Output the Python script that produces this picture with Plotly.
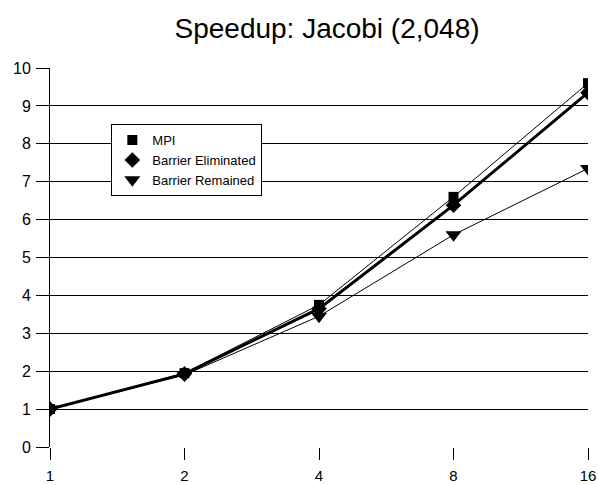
import plotly.graph_objects as go

procs = ["1", "2", "4", "8", "16"]
mpi = [1.0, 1.95, 3.75, 6.6, 9.6]
barrier_eliminated = [1.0, 1.93, 3.65, 6.38, 9.35]
barrier_remained = [1.0, 1.9, 3.45, 5.6, 7.35]

series = [
    ("MPI", mpi, 1, "square", 10),
    ("Barrier Eliminated", barrier_eliminated, 3, "diamond", 12),
    ("Barrier Remained", barrier_remained, 1, "triangle-down", 14),
]

fig = go.Figure()
for name, vals, lw, sym, ms in series:
    fig.add_trace(go.Scatter(x=procs, y=vals, name=name, mode="lines+markers", showlegend=False,
                             line=dict(color="black", width=lw),
                             marker=dict(symbol=sym, size=ms, color="black")))
for name, vals, lw, sym, ms in series:
    fig.add_trace(go.Scatter(x=[None], y=[None], name=name, mode="markers", showlegend=True,
                             marker=dict(symbol=sym, size=ms, color="black")))

fig.update_layout(
    template="none",
    width=599, height=485,
    margin=dict(l=50, r=11, t=68, b=38, autoexpand=False),
    paper_bgcolor="white", plot_bgcolor="white",
    font=dict(family="Liberation Sans, Arial", color="black", size=14),
    title=dict(text="Speedup: Jacobi (2,048)", x=0.546, xanchor="center", y=0.962, yanchor="top",
               font=dict(size=28)),
    showlegend=True,
    legend=dict(x=0.114, y=0.852, xanchor="left", yanchor="top", bordercolor="black", borderwidth=1,
                bgcolor="white", font=dict(size=13), tracegroupgap=0, itemwidth=30),
    xaxis=dict(type="category", range=[0, 4], showgrid=False, ticks="outside", ticklen=12,
               tickcolor="black", showline=False, zeroline=False, tickfont=dict(size=15),
               automargin=False, ticklabelstandoff=3),
    yaxis=dict(range=[0, 10], dtick=1, showgrid=True, gridcolor="black", gridwidth=1,
               ticks="outside", ticklen=13, tickcolor="black", showline=True, linecolor="black",
               linewidth=1, zeroline=False, tickfont=dict(size=16), automargin=False, ticklabelstandoff=2),
)
fig.write_html("out.html")
